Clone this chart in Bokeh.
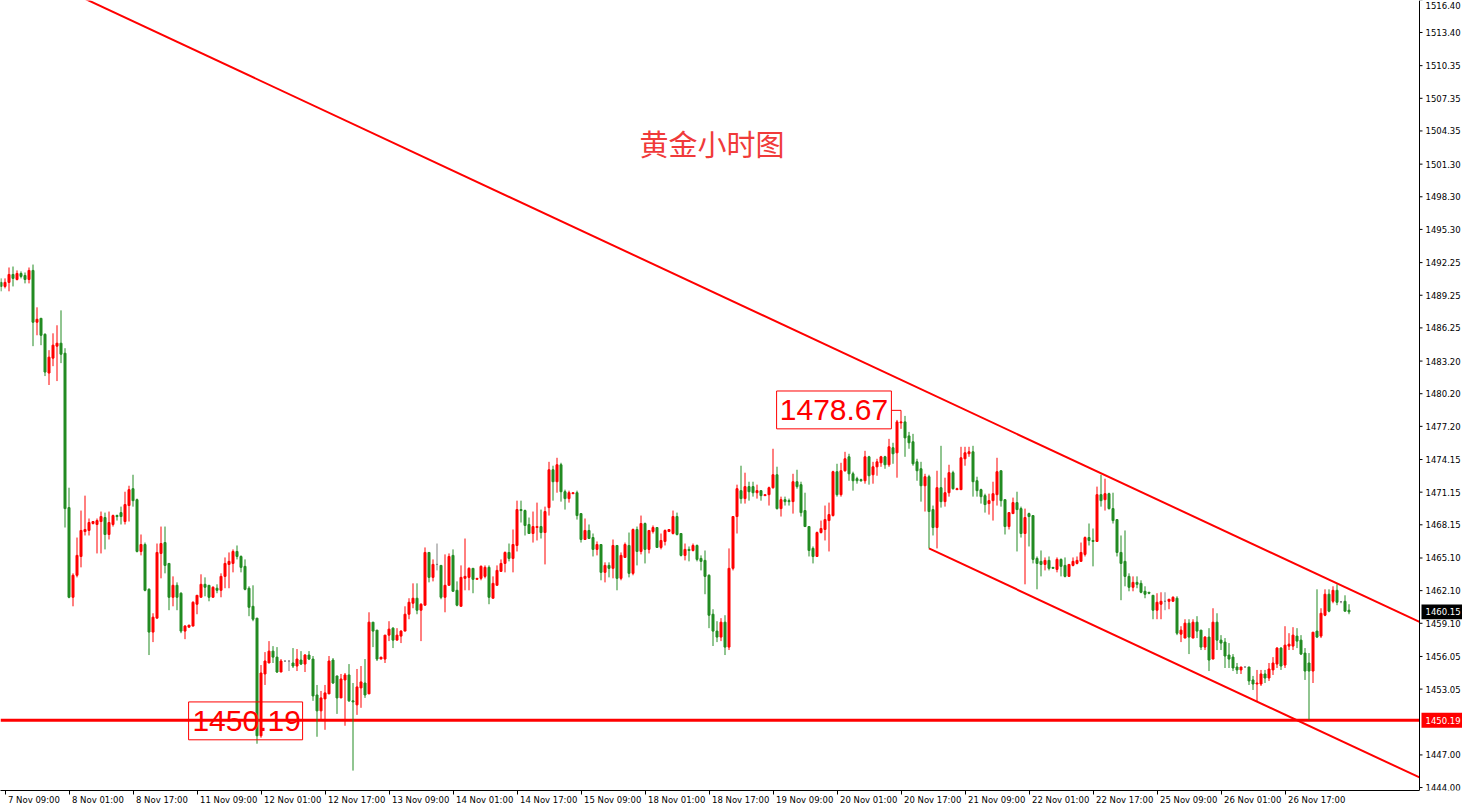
from bokeh.plotting import figure
from bokeh.models import Range1d, FixedTicker, Label, LinearAxis
from bokeh.core.properties import value
from bokeh.embed import file_html
from bokeh.resources import INLINE
import numpy as np

# ---------------- data (hourly XAUUSD candles) ----------------
opens = [
1490.43, 1490.06, 1490.43, 1491.16, 1490.70, 1491.25, 1491.07, 1490.70, 1491.53, 1486.77,
1487.13, 1485.66, 1482.10, 1483.47, 1484.57, 1484.84, 1483.92, 1469.73, 1461.49, 1463.51,
1465.24, 1467.53, 1467.63, 1468.27, 1468.18, 1468.45, 1468.82, 1467.26, 1468.18, 1469.00,
1469.27, 1468.45, 1469.92, 1471.47, 1470.46, 1465.70, 1466.34, 1462.22, 1458.29, 1459.57,
1465.52, 1466.52, 1464.60, 1461.49, 1462.59, 1461.86, 1458.38, 1458.74, 1458.84, 1460.85,
1461.49, 1462.68, 1462.59, 1461.49, 1462.32, 1462.13, 1463.41, 1464.51, 1464.60, 1465.70,
1465.24, 1464.33, 1462.32, 1460.66, 1459.57, 1448.76, 1454.44, 1455.45, 1456.54, 1455.99,
1454.62, 1455.63, 1455.63, 1455.45, 1455.17, 1455.72, 1455.35, 1456.18, 1455.81, 1452.51,
1451.05, 1452.15, 1452.61, 1455.72, 1454.26, 1452.24, 1453.89, 1454.35, 1451.97, 1451.60,
1453.16, 1453.61, 1452.61, 1459.20, 1458.47, 1455.81, 1455.81, 1458.01, 1458.65, 1457.55,
1457.92, 1458.38, 1459.93, 1460.94, 1461.40, 1460.30, 1460.76, 1465.61, 1463.32, 1464.51,
1464.42, 1461.49, 1462.59, 1465.34, 1462.13, 1460.66, 1463.23, 1463.32, 1464.15, 1463.14,
1463.23, 1463.41, 1464.24, 1461.40, 1462.59, 1463.87, 1464.60, 1465.61, 1465.06, 1466.25,
1469.55, 1469.46, 1468.18, 1467.35, 1467.90, 1467.99, 1467.44, 1469.73, 1473.21, 1472.11,
1473.67, 1471.19, 1470.56, 1471.01, 1471.10, 1469.18, 1466.80, 1467.63, 1466.98, 1465.89,
1466.34, 1463.78, 1464.42, 1464.15, 1466.25, 1463.23, 1465.15, 1466.25, 1463.69, 1467.72,
1465.70, 1468.27, 1465.89, 1467.53, 1467.90, 1466.07, 1466.62, 1467.53, 1467.35, 1468.91,
1467.35, 1465.34, 1465.89, 1465.79, 1466.25, 1465.06, 1464.88, 1463.51, 1459.93, 1458.38,
1457.83, 1459.20, 1456.91, 1464.15, 1468.91, 1471.29, 1470.56, 1471.66, 1471.66, 1471.10,
1471.29, 1470.83, 1470.92, 1471.56, 1472.75, 1469.64, 1470.46, 1470.37, 1470.28, 1472.11,
1471.84, 1469.46, 1467.99, 1465.98, 1465.24, 1467.44, 1467.72, 1468.54, 1469.00, 1473.03,
1470.92, 1473.12, 1474.40, 1472.84, 1472.39, 1472.30, 1472.20, 1474.40, 1472.75, 1473.48,
1473.85, 1474.40, 1473.67, 1475.23, 1474.77, 1477.52, 1477.61, 1476.32, 1475.78, 1473.94,
1473.30, 1471.74, 1472.57, 1469.55, 1467.90, 1471.56, 1470.28, 1471.10, 1472.94, 1471.38,
1471.38, 1474.22, 1474.68, 1474.86, 1472.20, 1471.38, 1470.83, 1470.10, 1470.37, 1470.92,
1473.12, 1470.46, 1467.99, 1469.18, 1470.19, 1469.64, 1467.35, 1469.18, 1469.00, 1465.06,
1464.79, 1464.51, 1464.88, 1464.24, 1464.05, 1464.97, 1464.42, 1463.41, 1464.42, 1464.60,
1464.79, 1465.43, 1466.98, 1466.71, 1466.62, 1470.92, 1470.46, 1471.01, 1469.64, 1468.63,
1465.61, 1464.79, 1463.41, 1462.41, 1462.86, 1462.77, 1462.04, 1461.95, 1461.67, 1460.30,
1460.85, 1461.12, 1461.12, 1461.12, 1461.40, 1458.10, 1457.74, 1459.11, 1457.74, 1459.20,
1458.47, 1456.91, 1457.83, 1455.81, 1459.20, 1457.55, 1457.37, 1456.18, 1455.99, 1455.08,
1454.81, 1455.08, 1455.08, 1453.89, 1453.52, 1453.52, 1454.44, 1454.07, 1454.81, 1455.35,
1456.82, 1455.26, 1457.00, 1457.00, 1457.92, 1457.55, 1456.36, 1455.45, 1454.71, 1458.38,
1457.92, 1459.84, 1461.77, 1461.12, 1462.13, 1461.08, 1461.12, 1460.30]

highs = [
1490.80, 1490.80, 1491.80, 1491.89, 1491.53, 1491.44, 1491.34, 1491.80, 1492.07, 1488.14,
1487.13, 1485.75, 1484.20, 1485.75, 1486.49, 1487.86, 1484.38, 1471.56, 1463.69, 1466.98,
1469.46, 1470.83, 1468.73, 1468.45, 1468.73, 1469.37, 1469.27, 1469.37, 1469.09, 1469.09,
1469.82, 1471.19, 1471.74, 1472.75, 1470.56, 1467.26, 1466.52, 1462.32, 1460.02, 1466.43,
1467.99, 1467.99, 1464.60, 1463.41, 1462.86, 1461.95, 1458.93, 1458.93, 1461.12, 1461.67,
1463.60, 1463.32, 1462.59, 1462.50, 1462.68, 1463.69, 1465.15, 1465.61, 1465.89, 1466.25,
1465.34, 1464.97, 1462.50, 1462.59, 1459.57, 1455.26, 1456.45, 1457.46, 1457.00, 1456.91,
1455.81, 1455.63, 1455.63, 1456.82, 1456.73, 1456.54, 1456.27, 1456.54, 1456.09, 1453.43,
1452.88, 1453.43, 1456.09, 1455.90, 1454.26, 1454.44, 1454.53, 1455.35, 1453.61, 1454.90,
1455.17, 1455.81, 1460.11, 1459.20, 1458.47, 1455.99, 1458.01, 1459.29, 1458.74, 1458.65,
1458.47, 1460.66, 1461.40, 1462.77, 1462.77, 1460.94, 1466.07, 1465.61, 1464.97, 1466.43,
1464.42, 1465.43, 1465.52, 1465.89, 1462.95, 1464.42, 1466.89, 1464.24, 1464.15, 1463.23,
1464.42, 1464.42, 1464.42, 1463.41, 1464.42, 1464.97, 1465.70, 1466.43, 1467.72, 1470.37,
1470.37, 1469.55, 1468.82, 1469.37, 1470.19, 1469.55, 1469.82, 1473.94, 1473.58, 1474.31,
1473.85, 1471.38, 1471.29, 1471.10, 1471.29, 1469.18, 1468.73, 1468.18, 1467.35, 1466.62,
1466.34, 1464.70, 1464.70, 1466.80, 1466.25, 1465.61, 1466.52, 1467.44, 1467.81, 1467.99,
1469.00, 1468.36, 1467.63, 1468.09, 1467.90, 1467.35, 1467.72, 1467.72, 1469.46, 1469.27,
1467.35, 1466.43, 1466.16, 1466.43, 1466.34, 1465.34, 1465.79, 1463.60, 1460.39, 1459.29,
1459.57, 1459.84, 1465.98, 1468.91, 1471.84, 1473.58, 1472.94, 1472.11, 1472.11, 1471.84,
1471.29, 1470.92, 1471.66, 1475.14, 1473.49, 1470.74, 1470.74, 1470.56, 1472.84, 1473.21,
1472.11, 1471.10, 1467.99, 1466.16, 1467.53, 1468.54, 1469.92, 1470.19, 1473.12, 1473.76,
1473.85, 1474.86, 1474.68, 1473.03, 1472.57, 1472.39, 1474.95, 1474.49, 1473.94, 1474.22,
1474.49, 1474.49, 1476.05, 1475.69, 1477.79, 1478.67, 1478.16, 1476.69, 1476.51, 1474.22,
1473.94, 1472.84, 1472.75, 1469.92, 1473.12, 1475.41, 1472.48, 1473.67, 1473.12, 1471.56,
1475.32, 1475.32, 1475.32, 1475.41, 1472.57, 1471.47, 1471.01, 1471.01, 1472.11, 1474.31,
1473.12, 1470.46, 1469.27, 1470.65, 1471.19, 1469.82, 1469.64, 1469.27, 1469.00, 1465.24,
1465.79, 1465.15, 1465.24, 1464.24, 1465.15, 1465.06, 1465.15, 1464.51, 1465.15, 1465.24,
1466.52, 1467.08, 1468.27, 1467.81, 1471.66, 1472.75, 1472.39, 1471.10, 1471.10, 1468.63,
1467.17, 1467.63, 1463.69, 1463.41, 1463.41, 1463.05, 1462.50, 1461.95, 1461.67, 1461.86,
1461.95, 1461.95, 1461.31, 1461.58, 1461.58, 1458.83, 1459.47, 1459.47, 1459.47, 1459.75,
1458.47, 1457.92, 1458.65, 1460.48, 1460.02, 1458.01, 1457.74, 1457.28, 1456.27, 1455.45,
1455.08, 1455.08, 1455.08, 1454.26, 1454.81, 1454.81, 1454.81, 1455.45, 1455.99, 1456.91,
1456.91, 1458.83, 1458.19, 1458.74, 1458.65, 1458.01, 1456.82, 1456.36, 1458.28, 1462.22,
1460.48, 1462.22, 1462.22, 1462.50, 1462.68, 1461.08, 1461.67, 1460.85]

lows = [
1489.61, 1489.88, 1489.61, 1490.06, 1490.61, 1490.80, 1490.34, 1490.34, 1484.57, 1485.57,
1484.66, 1481.82, 1481.00, 1482.73, 1481.36, 1483.01, 1467.90, 1461.40, 1460.66, 1463.32,
1464.24, 1467.17, 1467.17, 1468.18, 1465.52, 1465.52, 1465.89, 1466.80, 1467.99, 1468.54,
1468.18, 1468.18, 1468.45, 1469.82, 1465.61, 1465.34, 1462.04, 1456.18, 1457.37, 1459.57,
1463.23, 1463.69, 1460.30, 1460.66, 1460.30, 1458.19, 1457.64, 1458.74, 1458.84, 1459.93,
1461.49, 1461.58, 1461.12, 1461.49, 1461.86, 1461.49, 1462.32, 1462.32, 1463.78, 1464.97,
1463.78, 1462.13, 1459.75, 1459.29, 1448.03, 1448.58, 1453.43, 1455.45, 1455.45, 1454.53,
1454.62, 1455.54, 1454.71, 1454.99, 1454.71, 1455.26, 1454.62, 1455.72, 1451.97, 1448.67,
1450.13, 1449.31, 1452.61, 1453.52, 1450.77, 1452.24, 1449.68, 1451.87, 1445.56, 1450.68,
1451.33, 1452.24, 1452.61, 1456.91, 1455.63, 1455.81, 1455.45, 1457.46, 1456.82, 1457.55,
1457.28, 1458.38, 1459.47, 1460.48, 1459.93, 1457.46, 1460.76, 1462.86, 1462.95, 1463.96,
1461.31, 1460.11, 1462.59, 1462.04, 1460.66, 1460.66, 1462.13, 1462.13, 1461.86, 1463.14,
1463.05, 1463.23, 1460.85, 1461.40, 1462.59, 1463.87, 1463.78, 1464.79, 1463.78, 1465.70,
1468.36, 1467.17, 1467.35, 1466.52, 1466.71, 1466.89, 1464.51, 1469.00, 1470.37, 1471.10,
1470.28, 1469.55, 1470.19, 1471.01, 1468.63, 1466.52, 1466.80, 1466.89, 1465.24, 1465.34,
1463.05, 1462.86, 1463.32, 1463.23, 1462.13, 1463.05, 1465.15, 1463.32, 1463.51, 1464.42,
1465.43, 1464.60, 1465.52, 1467.35, 1466.07, 1465.89, 1466.25, 1467.53, 1467.26, 1467.17,
1465.24, 1464.88, 1464.79, 1465.70, 1464.79, 1463.96, 1461.77, 1458.65, 1457.01, 1457.37,
1457.46, 1456.18, 1456.64, 1463.96, 1467.35, 1470.10, 1470.10, 1470.37, 1470.74, 1470.56,
1470.37, 1470.83, 1469.92, 1471.47, 1469.55, 1468.91, 1469.92, 1469.92, 1469.18, 1471.47,
1468.91, 1467.99, 1465.24, 1464.60, 1465.24, 1467.35, 1466.71, 1465.70, 1468.91, 1470.74,
1470.74, 1473.03, 1472.20, 1471.29, 1471.93, 1472.11, 1471.93, 1471.84, 1471.93, 1472.66,
1473.48, 1473.30, 1473.48, 1473.76, 1472.48, 1476.97, 1474.40, 1475.14, 1473.58, 1472.20,
1470.28, 1469.37, 1465.98, 1467.17, 1465.98, 1469.73, 1469.82, 1470.74, 1471.38, 1471.38,
1471.38, 1473.58, 1474.40, 1470.74, 1470.74, 1470.10, 1469.27, 1469.09, 1468.54, 1469.92,
1469.82, 1467.26, 1467.72, 1469.18, 1465.70, 1466.98, 1462.68, 1466.16, 1464.60, 1462.22,
1463.41, 1463.96, 1463.96, 1464.15, 1463.78, 1463.41, 1463.32, 1463.41, 1464.33, 1464.51,
1464.79, 1465.24, 1466.25, 1464.33, 1466.62, 1469.82, 1469.46, 1469.55, 1468.27, 1465.24,
1461.22, 1462.50, 1462.04, 1462.04, 1462.32, 1461.86, 1461.40, 1461.77, 1459.47, 1459.47,
1459.47, 1460.30, 1460.39, 1461.12, 1458.01, 1457.37, 1457.74, 1456.27, 1457.74, 1457.74,
1456.64, 1456.64, 1454.71, 1455.81, 1456.64, 1456.64, 1454.99, 1454.99, 1454.71, 1454.44,
1454.44, 1455.08, 1453.43, 1452.97, 1451.87, 1453.34, 1453.61, 1453.80, 1454.35, 1454.99,
1454.81, 1454.99, 1456.64, 1456.64, 1456.82, 1456.18, 1453.89, 1450.23, 1453.61, 1457.74,
1457.74, 1459.75, 1460.11, 1460.94, 1460.76, 1460.94, 1460.21, 1459.93]

closes = [
1490.06, 1490.43, 1491.16, 1490.80, 1491.25, 1490.98, 1490.70, 1491.53, 1486.77, 1487.04,
1485.57, 1482.19, 1483.56, 1484.66, 1484.84, 1483.83, 1469.64, 1461.49, 1463.51, 1465.34,
1467.63, 1467.72, 1468.36, 1468.45, 1468.54, 1468.91, 1467.26, 1468.36, 1469.00, 1468.91,
1468.91, 1470.01, 1471.38, 1470.37, 1465.70, 1466.34, 1462.13, 1458.29, 1459.66, 1465.61,
1466.43, 1464.42, 1461.49, 1462.59, 1461.49, 1458.38, 1458.84, 1458.93, 1461.03, 1461.67,
1462.68, 1462.41, 1461.49, 1462.41, 1462.13, 1463.41, 1464.60, 1464.79, 1465.70, 1465.24,
1464.24, 1462.22, 1460.57, 1459.47, 1448.76, 1454.53, 1455.63, 1456.54, 1455.99, 1454.62,
1455.63, 1455.63, 1455.63, 1455.17, 1455.81, 1455.35, 1456.18, 1455.81, 1452.42, 1451.05,
1452.24, 1452.70, 1455.63, 1453.61, 1452.24, 1453.98, 1454.35, 1451.97, 1451.87, 1453.25,
1453.71, 1452.51, 1459.20, 1458.38, 1455.81, 1455.99, 1458.01, 1458.56, 1457.55, 1458.01,
1458.38, 1459.93, 1461.03, 1461.40, 1460.30, 1460.85, 1465.61, 1463.32, 1464.51, 1464.51,
1461.49, 1462.59, 1465.24, 1462.04, 1460.76, 1463.32, 1463.41, 1464.15, 1463.14, 1463.23,
1464.33, 1464.24, 1461.49, 1462.77, 1463.96, 1464.60, 1465.61, 1465.06, 1466.34, 1469.55,
1469.46, 1468.09, 1467.35, 1467.99, 1467.99, 1467.44, 1469.37, 1473.21, 1472.11, 1473.67,
1471.19, 1470.56, 1471.10, 1471.10, 1469.00, 1466.80, 1467.63, 1466.89, 1465.89, 1466.34,
1463.78, 1464.42, 1464.15, 1466.25, 1463.23, 1465.34, 1466.34, 1463.69, 1467.72, 1465.70,
1468.27, 1465.89, 1467.63, 1467.90, 1466.07, 1466.71, 1467.63, 1467.72, 1468.91, 1467.26,
1465.34, 1465.89, 1465.79, 1466.25, 1464.97, 1464.79, 1463.41, 1459.84, 1458.38, 1457.83,
1459.20, 1456.91, 1464.15, 1468.91, 1471.47, 1470.56, 1471.66, 1471.19, 1471.10, 1471.29,
1470.83, 1470.92, 1471.56, 1472.75, 1469.64, 1470.46, 1470.28, 1470.28, 1472.11, 1471.66,
1469.27, 1467.99, 1465.79, 1465.24, 1467.44, 1467.81, 1468.63, 1469.09, 1473.03, 1470.92,
1473.12, 1474.22, 1472.84, 1472.20, 1472.20, 1472.20, 1474.40, 1472.66, 1473.48, 1473.94,
1474.40, 1473.67, 1475.32, 1474.68, 1477.61, 1477.61, 1476.14, 1475.69, 1473.76, 1473.12,
1471.74, 1472.57, 1469.37, 1467.90, 1471.56, 1470.28, 1471.10, 1472.94, 1471.47, 1471.47,
1474.31, 1474.77, 1474.86, 1472.11, 1471.29, 1470.74, 1470.01, 1470.37, 1471.01, 1473.03,
1470.37, 1467.99, 1469.27, 1470.19, 1469.55, 1467.35, 1468.82, 1468.91, 1464.97, 1464.60,
1464.51, 1464.88, 1464.15, 1464.15, 1464.97, 1464.33, 1463.41, 1464.51, 1464.79, 1464.88,
1465.61, 1466.98, 1466.71, 1466.62, 1470.92, 1470.37, 1471.01, 1469.64, 1468.54, 1465.61,
1464.60, 1463.41, 1462.41, 1462.86, 1462.68, 1461.95, 1461.77, 1461.86, 1460.30, 1461.03,
1461.12, 1461.12, 1461.31, 1461.49, 1458.19, 1458.47, 1459.11, 1457.83, 1459.20, 1458.38,
1456.91, 1457.83, 1455.72, 1459.20, 1457.55, 1457.28, 1456.09, 1455.81, 1454.99, 1454.81,
1455.08, 1455.08, 1453.80, 1453.52, 1453.61, 1454.44, 1454.07, 1454.90, 1455.45, 1456.82,
1455.17, 1457.09, 1457.18, 1458.01, 1457.46, 1456.27, 1454.71, 1454.71, 1458.28, 1457.83,
1460.02, 1461.77, 1460.21, 1462.13, 1461.03, 1461.08, 1460.21, 1460.15]

# time-axis labels (every 16 hourly bars, starting at bar 1)
time_labels = ["7 Nov 09:00", "8 Nov 01:00", "8 Nov 17:00", "11 Nov 09:00", "12 Nov 01:00",
               "12 Nov 17:00", "13 Nov 09:00", "14 Nov 01:00", "14 Nov 17:00", "15 Nov 09:00",
               "18 Nov 01:00", "18 Nov 17:00", "19 Nov 09:00", "20 Nov 01:00", "20 Nov 17:00",
               "21 Nov 09:00", "22 Nov 01:00", "22 Nov 17:00", "25 Nov 09:00", "26 Nov 01:00",
               "26 Nov 17:00"]
time_label_bars = [1, 17, 33, 49, 65, 81, 97, 113, 129, 145, 161, 177, 193, 209, 225,
                   241, 257, 273, 289, 305, 321]

price_ticks = [1444.00, 1447.00, 1453.05, 1456.05, 1459.10, 1462.10, 1465.10, 1468.15,
               1471.15, 1474.15, 1477.20, 1480.20, 1483.20, 1486.25, 1489.25, 1492.25,
               1495.30, 1498.30, 1501.30, 1504.35, 1507.35, 1510.35, 1513.40, 1516.40]

# drawn objects
support_level = 1450.19
last_price = 1460.15
peak_price = 1478.67
peak_bar = 225
upper_trend_x = [0.0, 354.625]
upper_trend_y = [1520.10, 1459.22]
lower_trend_x = [232.0, 354.625]
lower_trend_y = [1465.98, 1444.93]
title_text = "黄金小时图"

# ---------------- layout constants ----------------
UP = "#FF0000"
DOWN = "#228B22"
DOJI = "#808080"
AX_FONT = "DejaVu Sans"
AX_PX = 8.5
W, H = 1462, 807
BOTTOM = 14                 # px for the time axis
AXIS_COL = 43               # px for the price scale column
X0, AXIS_X = -0.125, 354.625
PX_PER_BAR = (W - AXIS_COL) / (AXIS_X - X0)
X1 = AXIS_X + AXIS_COL / PX_PER_BAR
Y0, Y1 = 1443.73, 1516.34
PX_PER_UNIT = (H - BOTTOM) / (Y1 - Y0)
bx = 1.0 / PX_PER_BAR       # one pixel in bar units
by = 1.0 / PX_PER_UNIT      # one pixel in price units

p = figure(width=W, height=H, output_backend="svg", toolbar_location=None,
           x_range=Range1d(X0, X1), y_range=Range1d(Y0, Y1),
           x_axis_location=None, y_axis_location=None,
           min_border_left=0, min_border_top=0, min_border_right=0, min_border_bottom=BOTTOM)
p.outline_line_color = None
p.grid.visible = False
p.background_fill_color = "white"
p.border_fill_color = "white"

o = np.array(opens)
h = np.array(highs)
l = np.array(lows)
c = np.array(closes)
idx = np.arange(len(c))
h = np.maximum(h, np.maximum(o, c))
l = np.minimum(l, np.minimum(o, c))
colors = np.where(c > o, UP, np.where(c < o, DOWN, DOJI)).tolist()

# trend lines and the support level
p.line(upper_trend_x, upper_trend_y, line_color="#FF0000", line_width=2)
p.line(lower_trend_x, lower_trend_y, line_color="#FF0000", line_width=2)
p.segment(x0=[X0], y0=[support_level], x1=[AXIS_X], y1=[support_level],
          line_color="#FF0000", line_width=3)

# candles
p.segment(x0=idx, y0=h, x1=idx, y1=l, line_color=colors, line_width=1)
p.vbar(x=idx, width=0.5, top=np.maximum(o, c), bottom=np.minimum(o, c),
       fill_color=colors, line_color=colors, line_width=1)

# price annotation boxes on the chart
p.segment(x0=[222.6], y0=[peak_price], x1=[peak_bar], y1=[peak_price], line_color="#FF0000", line_width=1)
p.quad(left=[193.9, 46.9], right=[222.6, 75.4], top=[1480.45, 1451.87], bottom=[1476.97, 1448.39],
       fill_color=None, line_color="#FF0000", line_width=1)
p.text(x=[208.25, 61.4], y=[1478.70, 1450.13], text=[f"{peak_price:.2f}", f"{support_level:.2f}"],
       text_align="center", text_baseline="middle", text_font=value("Liberation Sans"),
       text_font_size="30px", text_color="#FF0000")

# title
p.add_layout(Label(x=177.75, y=1503.25, text=title_text, text_align="center",
                   text_baseline="middle", text_font="Noto Sans CJK SC",
                   text_font_size="29px", text_color="#F03A3A"))

# price scale on the right (axis line, ticks, labels, value tags)
p.segment(x0=[AXIS_X], y0=[Y0], x1=[AXIS_X], y1=[Y1], line_color="black", line_width=1)
p.segment(x0=[AXIS_X] * len(price_ticks), y0=price_ticks,
          x1=[AXIS_X + 3 * bx] * len(price_ticks), y1=price_ticks, line_color="black", line_width=1)
# a label whose tick sits at the very top edge is nudged down so it stays readable
label_y = [min(v, Y1 - 5.5 * by) for v in price_ticks]
p.text(x=[AXIS_X + 6 * bx] * len(price_ticks), y=label_y,
       text=[f"{v:.2f}" for v in price_ticks], text_align="left", text_baseline="middle",
       text_font=value(AX_FONT), text_font_size=f"{AX_PX}px", text_color="black")
tag_prices = [last_price, support_level]
tag_colors = ["black", "#FF0000"]
p.quad(left=[AXIS_X + 2 * bx] * 2, right=[X1] * 2,
       top=[v + 7.5 * by for v in tag_prices], bottom=[v - 7.5 * by for v in tag_prices],
       fill_color=tag_colors, line_color=None)
p.text(x=[AXIS_X + 6 * bx] * 2, y=tag_prices, text=[f"{v:.2f}" for v in tag_prices],
       text_align="left", text_baseline="middle", text_font=value(AX_FONT),
       text_font_size=f"{AX_PX}px", text_color="white")

# time axis: tick marks at the label starts, labels written to the right of each tick
char_w = {" ": 651, ":": 690, "N": 1532, "o": 1253, "v": 1212}
def text_px(s):
    return sum(char_w.get(ch, 1303) for ch in s) * AX_PX / 2048.0

label_centres = [b + (3 + text_px(t) / 2) * bx for b, t in zip(time_label_bars, time_labels)]

tick_axis = LinearAxis(ticker=FixedTicker(ticks=time_label_bars),
                       major_label_overrides={b: "" for b in time_label_bars},
                       major_label_text_font_size="0px", major_label_standoff=0,
                       major_tick_out=4, major_tick_in=0, minor_tick_line_color=None,
                       axis_line_color="black", bounds=(X0, AXIS_X))
label_axis = LinearAxis(ticker=FixedTicker(ticks=label_centres),
                        major_label_overrides={v: t for v, t in zip(label_centres, time_labels)},
                        major_label_text_font=AX_FONT, major_label_text_font_size=f"{AX_PX}px",
                        major_label_text_color="black", major_label_standoff=0,
                        major_tick_out=0, major_tick_in=0, major_tick_line_color=None,
                        minor_tick_line_color=None, axis_line_color=None)
p.add_layout(tick_axis, "below")
p.add_layout(label_axis, "below")

open("out.html", "w").write(file_html(p, INLINE))
